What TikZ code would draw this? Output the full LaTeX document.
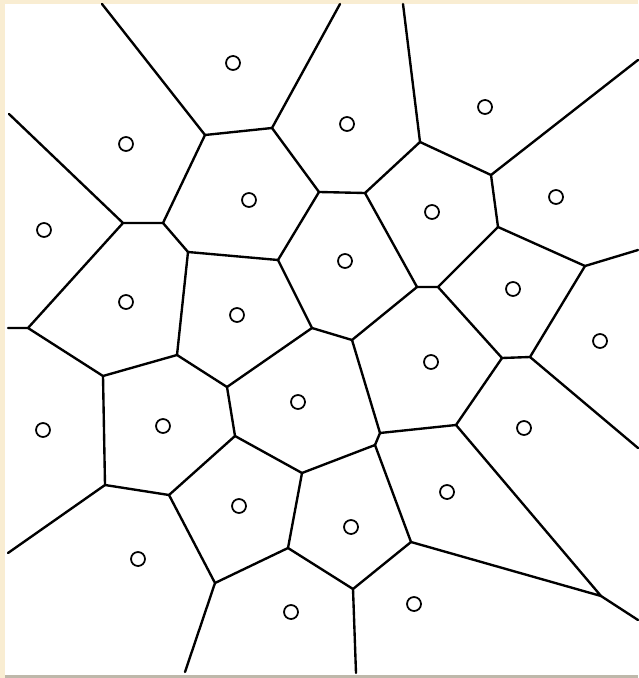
\documentclass[tikz,border=0pt]{standalone}
\usepackage{tikz}
\usetikzlibrary{positioning}

\definecolor{pageframe}{RGB}{249,237,210}
\definecolor{pageedge}{RGB}{190,184,170}

\begin{document}
\begin{tikzpicture}[
    x=0.02cm, y=-0.02cm,
    site/.style={draw, circle, inner sep=0pt, minimum size=0.28cm, line width=1pt},
    edge/.style={line width=1.35pt, line cap=round, line join=round}
]
\useasboundingbox (0,0) rectangle (638,678);
\fill[pageframe] (0,0) rectangle (638,678);
\fill[white] (5,4) rectangle (638,675);
\fill[pageedge] (5,675) rectangle (638,678);

\coordinate (b1) at (102,4);
\coordinate (b2) at (340,4);
\coordinate (b3) at (403,4);
\coordinate (b4) at (638,60);
\coordinate (b5) at (9,114);
\coordinate (b6) at (8,328);
\coordinate (b7) at (638,250);
\coordinate (b8) at (638,448);
\coordinate (b9) at (8,553);
\coordinate (b10) at (185,672);
\coordinate (b11) at (638,620);
\coordinate (b12) at (356,673);

\coordinate (v1) at (205,135);
\coordinate (v2) at (272,128);
\coordinate (v3) at (319,192);
\coordinate (v4) at (278,260);
\coordinate (v5) at (188,252);
\coordinate (v6) at (163,223);
\coordinate (v7) at (123,223);
\coordinate (v8) at (28,328);
\coordinate (v9) at (420,142);
\coordinate (v10) at (365,193);
\coordinate (v11) at (491,175);
\coordinate (v12) at (498,227);
\coordinate (v13) at (585,266);
\coordinate (v14) at (438,287);
\coordinate (v15) at (417,287);
\coordinate (v16) at (103,376);
\coordinate (v17) at (177,355);
\coordinate (v18) at (227,387);
\coordinate (v19) at (235,436);
\coordinate (v20) at (169,495);
\coordinate (v21) at (302,473);
\coordinate (v22) at (105,485);
\coordinate (v23) at (215,583);
\coordinate (v24) at (288,548);
\coordinate (v25) at (352,340);
\coordinate (v26) at (380,433);
\coordinate (v27) at (502,358);
\coordinate (v28) at (530,357);
\coordinate (v29) at (456,425);
\coordinate (v30) at (375,445);
\coordinate (v31) at (411,542);
\coordinate (v32) at (601,596);
\coordinate (v33) at (353,589);
\coordinate (v34) at (312,328);

\node[site] (s1) at (233,63) {};
\node[site] (s2) at (485,107) {};
\node[site] (s3) at (347,124) {};
\node[site] (s4) at (126,144) {};
\node[site] (s5) at (249,200) {};
\node[site] (s6) at (432,212) {};
\node[site] (s7) at (556,197) {};
\node[site] (s8) at (44,230) {};
\node[site] (s9) at (345,261) {};
\node[site] (s10) at (513,289) {};
\node[site] (s11) at (126,302) {};
\node[site] (s12) at (237,315) {};
\node[site] (s13) at (600,341) {};
\node[site] (s14) at (431,362) {};
\node[site] (s15) at (298,402) {};
\node[site] (s16) at (43,430) {};
\node[site] (s17) at (163,426) {};
\node[site] (s18) at (524,428) {};
\node[site] (s19) at (447,492) {};
\node[site] (s20) at (239,506) {};
\node[site] (s21) at (351,527) {};
\node[site] (s22) at (138,559) {};
\node[site] (s23) at (291,612) {};
\node[site] (s24) at (414,604) {};

\draw[edge] (b1) -- (v1) -- (v2) -- (b2);
\draw[edge] (v2) -- (v3) -- (v10);
\draw[edge] (v3) -- (v4) -- (v5) -- (v6) -- (v1);
\draw[edge] (v6) -- (v7) -- (b5);
\draw[edge] (v7) -- (v8) -- (b6);
\draw[edge] (v5) -- (v17);
\draw[edge] (v8) -- (v16) -- (v17) -- (v18) -- (v34);
\draw[edge] (v4) -- (v34) -- (v25) -- (v15) -- (v10) -- (v9) -- (b3);
\draw[edge] (v9) -- (v11) -- (b4);
\draw[edge] (v11) -- (v12) -- (v13) -- (b7);
\draw[edge] (v12) -- (v14) -- (v15);
\draw[edge] (v14) -- (v27) -- (v28) -- (v13);
\draw[edge] (v28) -- (b8);
\draw[edge] (v27) -- (v29) -- (v26) -- (v25);
\draw[edge] (v26) -- (v30) -- (v21);
\draw[edge] (v30) -- (v31) -- (v32) -- (v29);
\draw[edge] (v32) -- (b11);
\draw[edge] (v31) -- (v33) -- (b12);
\draw[edge] (v33) -- (v24) -- (v21) -- (v19) -- (v18);
\draw[edge] (v19) -- (v20) -- (v22) -- (v16);
\draw[edge] (v22) -- (b9);
\draw[edge] (v20) -- (v23) -- (b10);
\draw[edge] (v23) -- (v24);
\end{tikzpicture}
\end{document}
